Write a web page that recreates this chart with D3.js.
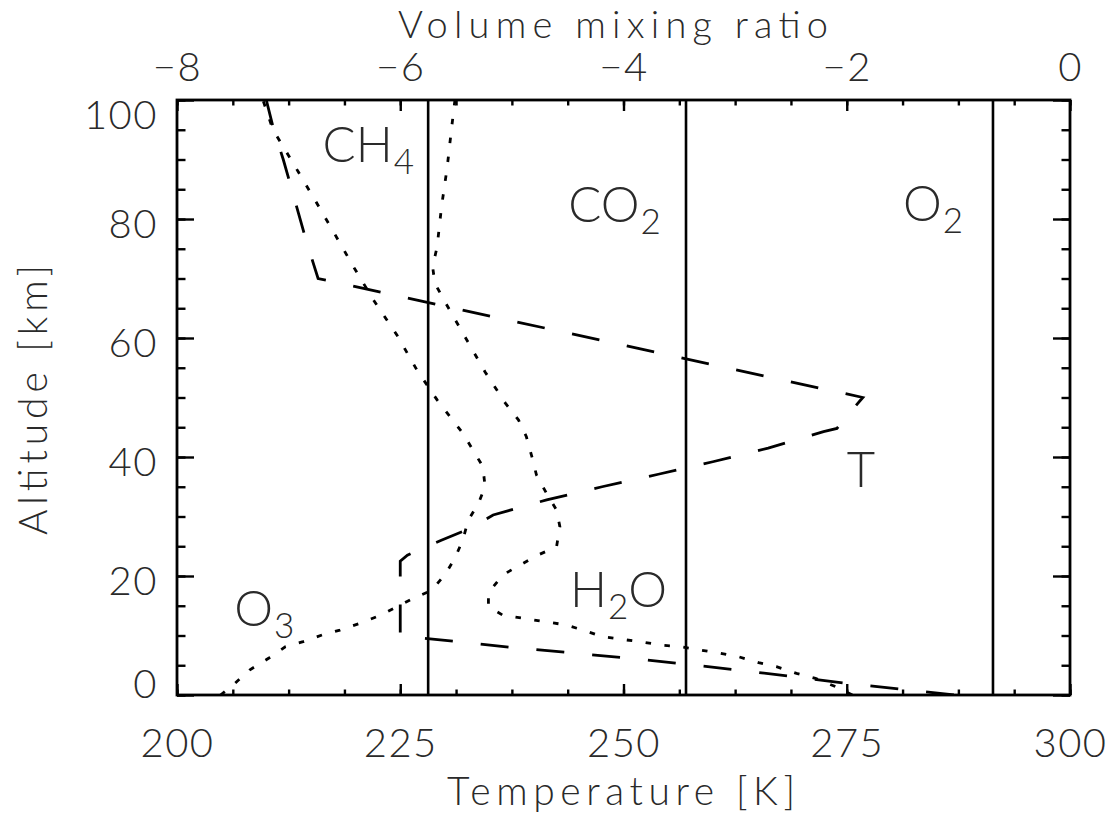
<!DOCTYPE html>
<html><head><meta charset="utf-8">
<script src="https://cdn.jsdelivr.net/npm/d3@7"></script>
<style>
body{margin:0;background:#fff}
svg text{font-family:Lato,'DejaVu Sans',sans-serif;font-weight:300;fill:#2a2a2a}
</style></head>
<body><svg id="c" width="1112" height="823"></svg>
<script>
// ---- data ----
const tempTicks = [200, 225, 250, 275, 300];
const vmrTicks = [-8, -6, -4, -2, 0];
const altTicks = [0, 20, 40, 60, 80, 100];

// temperature profile (altitude km, temperature K)
const tAlt = [0, 2, 4, 6, 8, 9.6, 10, 22.5, 23.5, 24.5, 26, 28, 30.25, 32.8, 35, 37.1, 39.2, 41.5, 44.25, 44.8, 46.5, 50, 70, 76.2, 81, 90, 95.2, 100];
const tVal = [287, 274.8, 264, 252, 237.5, 227.3, 225, 225, 225.8, 227.3, 229.6, 232.8, 235.4, 241.4, 247.6, 253.9, 260, 266.2, 272.4, 273.9, 274.8, 276.8, 215.8, 214.5, 213.6, 211.9, 210.8, 210];

// O3 log10 volume mixing ratio
const o3Alt = [0, 1.97, 4.2, 6.17, 8.1, 8.96, 10.1, 10.9, 12.05, 13.4, 14.84, 16.25, 17.6, 20.2, 23, 26.05, 29.4, 32.2, 35, 38.4, 44, 49.6, 54.6, 60.5, 66.4, 72, 77.9, 83.7, 89.4, 95, 100];
const o3Val = [-7.61, -7.48, -7.35, -7.18, -7.03, -6.87, -6.70, -6.54, -6.36, -6.18, -6.03, -5.88, -5.72, -5.60, -5.51, -5.44, -5.39, -5.30, -5.24, -5.26, -5.44, -5.67, -5.85, -6.03, -6.24, -6.42, -6.60, -6.78, -6.96, -7.14, -7.23];

// H2O log10 volume mixing ratio
const h2oAlt = [0, 1.4, 2.8, 3.64, 4.76, 5.43, 6.44, 7.0, 7.56, 8.1, 8.4, 8.96, 9.36, 9.8, 10.9, 11.8, 12.3, 12.9, 13.4, 14.84, 16.5, 17.9, 20.2, 21.8, 23.5, 24.9, 28.3, 31.1, 33.9, 37, 40, 43.4, 46.2, 49.1, 54.3, 60.2, 66.1, 69.2, 72, 75.3, 82.1, 88.6, 95.3, 100];
const h2oVal = [-1.95, -2.10, -2.28, -2.45, -2.63, -2.79, -2.97, -3.13, -3.31, -3.48, -3.67, -3.85, -4.02, -4.19, -4.36, -4.52, -4.70, -4.90, -5.08, -5.21, -5.21, -5.18, -5.08, -4.93, -4.77, -4.60, -4.57, -4.60, -4.69, -4.78, -4.82, -4.87, -4.94, -5.06, -5.24, -5.42, -5.60, -5.69, -5.71, -5.67, -5.63, -5.58, -5.54, -5.51];

// well-mixed gases (log10 VMR)
const gasNames = ['CH4', 'CO2', 'O2'];
const gasVal = [-5.75, -3.44, -0.69];

// annotation labels: [text, subscript flag] parts, anchored at (temperature, altitude)
const labelParts = [
  [['CH', 0], ['4', 1]],
  [['CO', 0], ['2', 1]],
  [['O', 0], ['2', 1]],
  [['H', 0], ['2', 1], ['O', 0]],
  [['T', 0]],
  [['O', 0], ['3', 1]]
];
const labelT = [216.3, 243.8, 281.3, 244, 275, 206.4];
const labelAlt = [89.6, 79.5, 79.7, 14.8, 34.9, 11.6];

// ---- layout ----
const L = 177, R = 1070, T = 100, B = 695;
const svg = d3.select('#c');
const xT = d3.scaleLinear().domain([200, 300]).range([L, R]);
const xV = d3.scaleLinear().domain([-8, 0]).range([L, R]);
const y = d3.scaleLinear().domain([0, 100]).range([B, T]);

svg.append('defs').append('clipPath').attr('id', 'clip')
  .append('rect').attr('x', L).attr('y', T).attr('width', R - L).attr('height', B - T);

const plot = svg.append('g').attr('clip-path', 'url(#clip)');

// vertical lines for well-mixed gases
plot.selectAll('line.gas').data(gasVal).join('line').attr('class', 'gas')
  .attr('x1', d => xV(d)).attr('x2', d => xV(d))
  .attr('y1', y(0)).attr('y2', y(100))
  .attr('stroke', '#000').attr('stroke-width', 2.6);

// profiles
const lineT = d3.line().x(i => xT(tVal[i])).y(i => y(tAlt[i]));
plot.append('path').datum(d3.range(tAlt.length)).attr('d', lineT)
  .attr('fill', 'none').attr('stroke', '#000').attr('stroke-width', 2.8)
  .attr('stroke-dasharray', '28,28');

const lineO3 = d3.line().x(i => xV(o3Val[i])).y(i => y(o3Alt[i]));
plot.append('path').datum(d3.range(o3Alt.length)).attr('d', lineO3)
  .attr('fill', 'none').attr('stroke', '#000').attr('stroke-width', 2.8)
  .attr('stroke-dasharray', '5.5,13.5');

const lineH2O = d3.line().x(i => xV(h2oVal[i])).y(i => y(h2oAlt[i]));
plot.append('path').datum(d3.range(h2oAlt.length)).attr('d', lineH2O)
  .attr('fill', 'none').attr('stroke', '#000').attr('stroke-width', 2.8)
  .attr('stroke-dasharray', '5.5,13.5');

// ---- axes ----
function styleAxis(g) {
  g.select('.domain').remove();
  g.selectAll('.tick line').attr('stroke', '#000').attr('stroke-width', 2.4);
  g.selectAll('.tick text').style('font-size', '40px').style('letter-spacing', '1.5px').attr('fill', '#2a2a2a');
}
const minorT = d3.range(200, 300.001, 6.25);
const minorV = d3.range(-8, 0.001, 0.5);
const minorA = d3.range(0, 100.001, 5);

// bottom
svg.append('g').attr('transform', `translate(0,${B})`)
  .call(d3.axisBottom(xT).tickValues(minorT).tickSize(-5.5).tickSizeOuter(0).tickFormat(''))
  .call(styleAxis);
svg.append('g').attr('transform', `translate(0,${B})`)
  .call(d3.axisBottom(xT).tickValues(tempTicks).tickSize(-11).tickSizeOuter(0).tickFormat(d3.format('d')))
  .call(styleAxis)
  .call(g => g.selectAll('.tick text').attr('y', 62).attr('dy', 0));

// top
svg.append('g').attr('transform', `translate(0,${T})`)
  .call(d3.axisTop(xV).tickValues(minorV).tickSize(-5.5).tickSizeOuter(0).tickFormat(''))
  .call(styleAxis);
svg.append('g').attr('transform', `translate(0,${T})`)
  .call(d3.axisTop(xV).tickValues(vmrTicks).tickSize(-11).tickSizeOuter(0).tickFormat(d3.format('d')))
  .call(styleAxis)
  .call(g => g.selectAll('.tick text').attr('y', -19).attr('dy', 0));

// left
svg.append('g').attr('transform', `translate(${L},0)`)
  .call(d3.axisLeft(y).tickValues(minorA).tickSize(-8.5).tickSizeOuter(0).tickFormat(''))
  .call(styleAxis);
svg.append('g').attr('transform', `translate(${L},0)`)
  .call(d3.axisLeft(y).tickValues(altTicks).tickSize(-17).tickSizeOuter(0).tickFormat(d3.format('d')))
  .call(styleAxis)
  .call(g => g.selectAll('.tick text').attr('x', -19).attr('dy', 0)
    .attr('y', d => d === 0 ? 2 : (d === 100 ? 28 : 18)));

// right
svg.append('g').attr('transform', `translate(${R},0)`)
  .call(d3.axisRight(y).tickValues(minorA).tickSize(-8.5).tickSizeOuter(0).tickFormat(''))
  .call(styleAxis);
svg.append('g').attr('transform', `translate(${R},0)`)
  .call(d3.axisRight(y).tickValues(altTicks).tickSize(-17).tickSizeOuter(0).tickFormat(''))
  .call(styleAxis);

// frame
svg.append('rect').attr('x', L).attr('y', T).attr('width', R - L).attr('height', B - T)
  .attr('fill', 'none').attr('stroke', '#000').attr('stroke-width', 2.8);

// axis titles
svg.append('text').attr('x', 447).attr('y', 805)
  .attr('textLength', 348).attr('lengthAdjust', 'spacing')
  .style('font-size', '39px').text('Temperature [K]');
svg.append('text').attr('x', 398).attr('y', 38)
  .attr('textLength', 430).attr('lengthAdjust', 'spacing')
  .style('font-size', '38px').text('Volume mixing ratio');
svg.append('text').attr('transform', 'translate(47,535) rotate(-90)')
  .attr('textLength', 270).attr('lengthAdjust', 'spacing')
  .style('font-size', '39px').text('Altitude [km]');

// species labels
labelParts.forEach((parts, i) => {
  const t = svg.append('text').attr('x', xT(labelT[i])).attr('y', y(labelAlt[i]))
    .style('font-size', '49px');
  let down = false;
  parts.forEach(([s, sub]) => {
    const ts = t.append('tspan').text(s);
    if (sub) { ts.style('font-size', '35px').attr('dx', 1).attr('dy', down ? 0 : 12); down = true; }
    else { ts.attr('dy', down ? -12 : 0); down = false; }
  });
});
</script></body></html>
